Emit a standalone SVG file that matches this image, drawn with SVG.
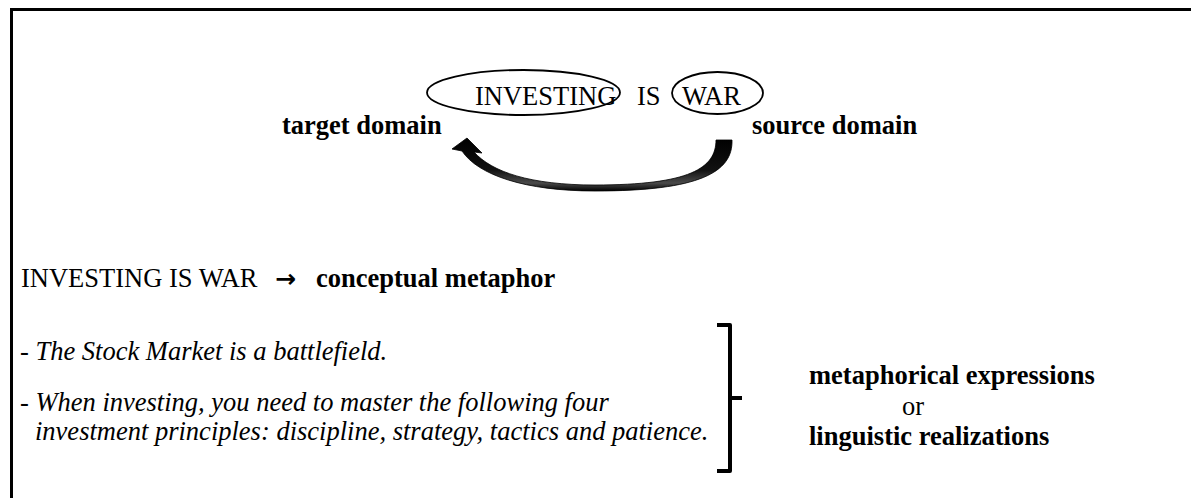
<svg xmlns="http://www.w3.org/2000/svg" width="1191" height="498" viewBox="0 0 1191 498">
  <defs>
    <style>
      text { font-family: "Liberation Serif", "Times New Roman", serif; font-size: 26.5px; fill: #000; }
      .b { font-weight: bold; }
      .i { font-style: italic; }
      .oval { fill: none; stroke: #000; stroke-width: 1.8; }
      .sym { font-family: "DejaVu Sans", sans-serif; font-size: 25px; font-weight: bold; }
    </style>
    <linearGradient id="arrowGrad" x1="0" y1="0" x2="0" y2="1">
      <stop offset="0" stop-color="#000"/>
      <stop offset="0.6" stop-color="#111"/>
      <stop offset="0.85" stop-color="#4a4a4a"/>
      <stop offset="1" stop-color="#000"/>
    </linearGradient>
  </defs>
  <rect width="1191" height="498" fill="#fff"/>
  <g id="frame">
    <path d="M11.5,520 L11.5,9.5 L1200,9.5" fill="none" stroke="#000" stroke-width="3"/>
  </g>
  <g id="target-node">
    <ellipse class="oval" cx="523.5" cy="92.5" rx="96.5" ry="22.5"/>
    <text x="475" y="105">INVESTING</text>
  </g>
  <g id="is-word">
    <text x="637" y="105">IS</text>
  </g>
  <g id="source-node">
    <ellipse class="oval" cx="717.5" cy="93" rx="45.5" ry="21"/>
    <text x="682" y="105">WAR</text>
  </g>
  <g id="target-label">
    <text class="b" x="282" y="134">target domain</text>
  </g>
  <g id="source-label">
    <text class="b" x="752" y="134">source domain</text>
  </g>
  <g id="connectors">
    <path d="M467,138 L482,153 L474,152 C492,172 530,185 595,185 C690,185 716,168 716,140 L732,140 C733,172 700,191 595,191 C525,191 478,175 462,151 L452,149 Z" fill="url(#arrowGrad)" stroke="#000" stroke-width="0.8" stroke-linejoin="round"/>
  </g>
  <g id="conceptual-line">
    <text x="21" y="287">INVESTING IS WAR</text>
    <text class="sym" x="275" y="287">→</text>
    <text class="b" x="316" y="287">conceptual metaphor</text>
  </g>
  <g id="examples">
    <text class="i" x="20" y="360">- The Stock Market is a battlefield.</text>
    <text class="i" x="20" y="411">- When investing, you need to master the following four</text>
    <text class="i" x="35" y="440">investment principles: discipline, strategy, tactics and patience.</text>
  </g>
  <g id="bracket">
    <path d="M717,325 L730,325 L730,471 L717,471 M730,398 L742,398" fill="none" stroke="#000" stroke-width="4" stroke-linejoin="round"/>
  </g>
  <g id="expressions-label">
    <text class="b" x="809" y="384">metaphorical expressions</text>
    <text x="902" y="415">or</text>
    <text class="b" x="809" y="445">linguistic realizations</text>
  </g>
</svg>
